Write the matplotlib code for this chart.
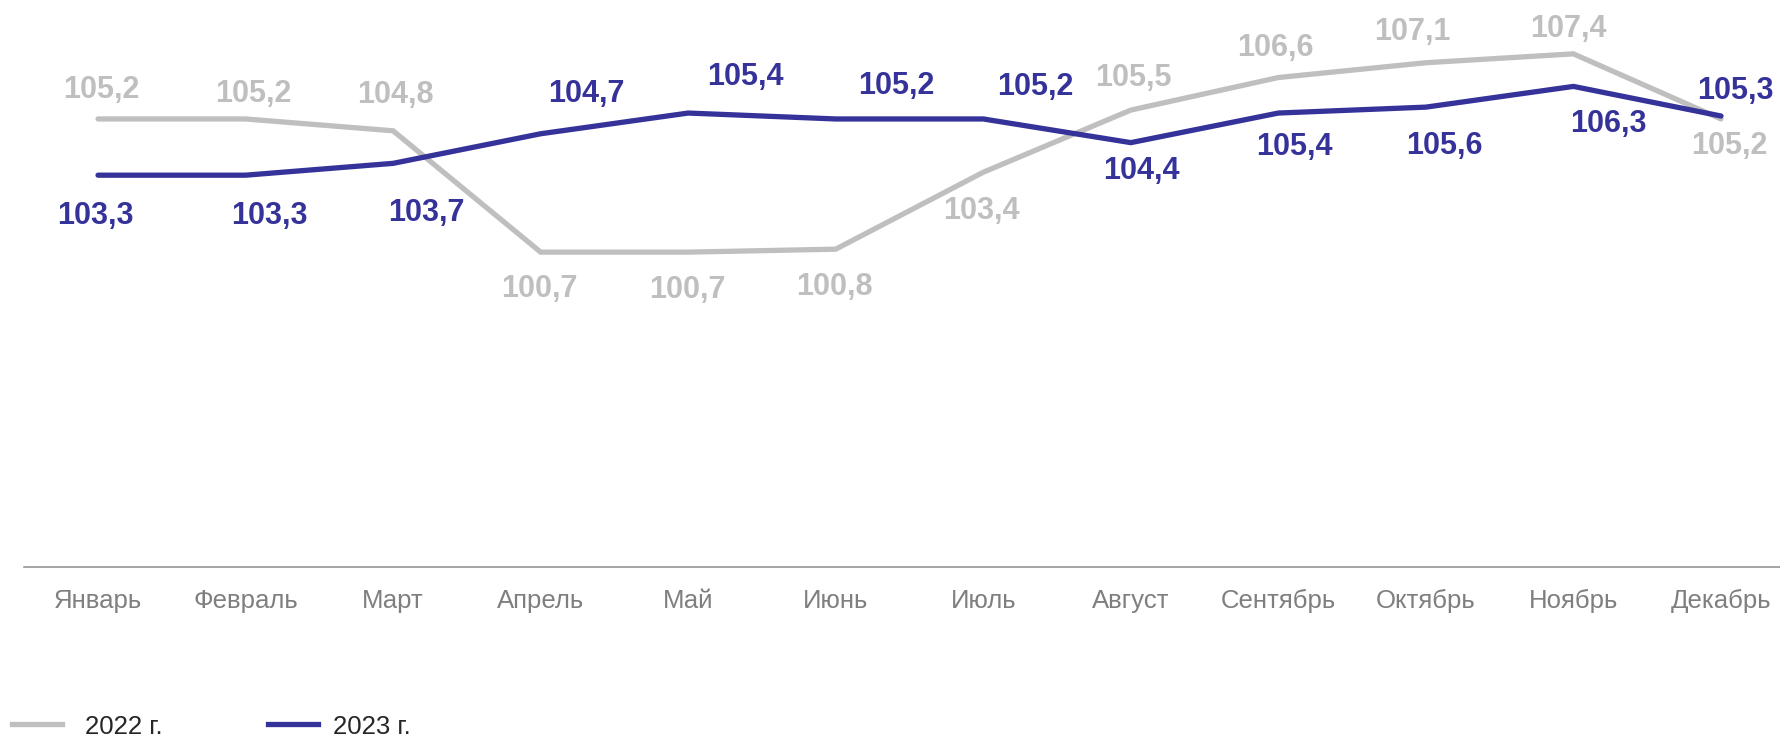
import matplotlib
matplotlib.use("Agg")
import matplotlib.pyplot as plt
from matplotlib.lines import Line2D

plt.rcParams['font.family'] = ['Liberation Sans', 'DejaVu Sans']

months = ["Январь", "Февраль", "Март", "Апрель", "Май", "Июнь", "Июль",
          "Август", "Сентябрь", "Октябрь", "Ноябрь", "Декабрь"]
values_2022 = [105.2, 105.2, 104.8, 100.7, 100.7, 100.8, 103.4, 105.5, 106.6, 107.1, 107.4, 105.2]
values_2023 = [103.3, 103.3, 103.7, 104.7, 105.4, 105.2, 105.2, 104.4, 105.4, 105.6, 106.3, 105.3]
series_names = ["2022 г.", "2023 г."]

# label offsets in pixels (dx, dy down-positive, to digit centre)
off_2022 = [(3.6, -31.5), (8, -28), (2, -39), (-1, 34), (-1, 35), (-1.5, 35),
            (-2, 36), (2.5, -35), (-3, -33), (-13.5, -34), (-5, -27.5), (8.5, 23.6)]
off_2023 = [(-3, 38), (24, 38), (33, 47), (46, -43), (57, -39), (61, -36),
            (52, -35), (10.5, 25), (16, 30.5), (18.5, 35.4), (35, 35), (14.5, -27.6)]

GRAY = '#BFBFBF'
BLUE = '#35329A'

W, H = 1780, 737
fig = plt.figure(figsize=(W / 100, H / 100), dpi=100)
ax = fig.add_axes([24.25 / W, 1 - 567 / H, 1 - 24.25 / W, 567 / H])
ax.set_xlim(-0.5, 11.4)
ax.set_ylim(90.06, 109.22)

x = list(range(len(months)))
ax.plot(x, values_2022, color=GRAY, lw=3.8, solid_capstyle='round', solid_joinstyle='miter', zorder=2)
ax.plot(x, values_2023, color=BLUE, lw=3.8, solid_capstyle='round', solid_joinstyle='miter', zorder=3)

def fmt(v):
    return f"{v:.1f}".replace('.', ',')

for vals, offs, col in [(values_2022, off_2022, GRAY), (values_2023, off_2023, BLUE)]:
    for i, (v, (dx, dy)) in enumerate(zip(vals, offs)):
        ax.annotate(fmt(v), (i, v), xytext=(dx, -(dy + 11)), textcoords='offset pixels',
                    ha='center', va='baseline', fontsize=22, fontweight='bold', color=col,
                    zorder=4, annotation_clip=False)

for s in ['top', 'right', 'left']:
    ax.spines[s].set_visible(False)
ax.spines['bottom'].set_color('#8C8C8C')
ax.spines['bottom'].set_linewidth(1.1)
ax.set_yticks([])
ax.set_xticks(x)
ax.set_xticklabels(months, fontsize=18.5, color='#7F7F7F')
ax.tick_params(axis='x', length=0, pad=15.5)

# legend
fig.add_artist(Line2D([12 / W, 62 / W], [1 - 724 / H, 1 - 724 / H], color=GRAY, lw=3.8))
fig.text(85 / W, 1 - 727 / H, series_names[0], fontsize=18.5, color='#262626', va='center', ha='left')
fig.add_artist(Line2D([268 / W, 318 / W], [1 - 724 / H, 1 - 724 / H], color=BLUE, lw=3.8))
fig.text(333 / W, 1 - 727 / H, series_names[1], fontsize=18.5, color='#262626', va='center', ha='left')

fig.savefig('out.png', dpi=100)
